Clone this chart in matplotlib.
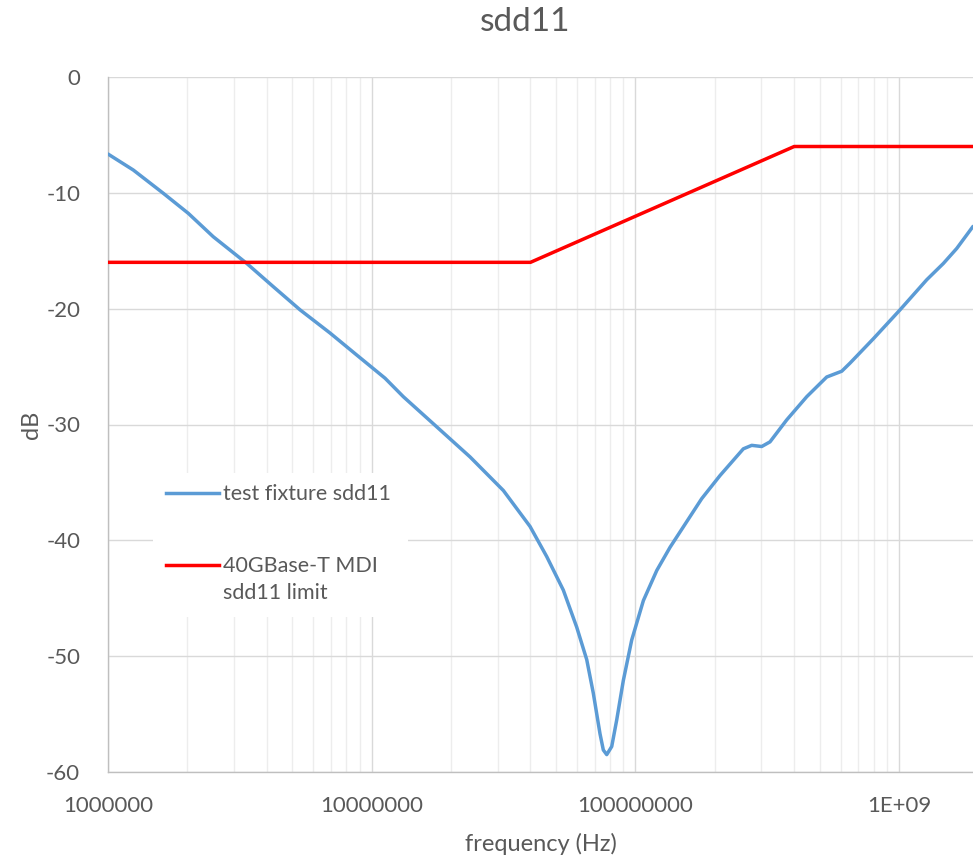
import numpy as np
import matplotlib
matplotlib.use("Agg")
import matplotlib.pyplot as plt
from matplotlib.lines import Line2D
from matplotlib.patches import Rectangle

# 测试夹具 sdd11 曲线
freq_fixture = [1.00e6, 1.247e6, 1.621e6, 2.016e6, 2.507e6, 3.357e6, 4.234e6,
                5.348e6, 6.948e6, 8.772e6, 1.123e7, 1.318e7, 1.764e7, 2.36e7,
                3.157e7, 3.984e7, 4.609e7, 5.329e7, 5.99e7, 6.537e7, 6.924e7,
                7.34e7, 7.556e7, 7.784e7, 8.131e7, 8.494e7, 8.998e7, 9.683e7,
                1.072e8, 1.205e8, 1.353e8, 1.784e8, 2.094e8, 2.566e8, 2.761e8,
                3.012e8, 3.238e8, 3.748e8, 4.463e8, 5.313e8, 6.059e8, 6.513e8,
                7.983e8, 1.008e9, 1.273e9, 1.471e9, 1.654e9, 1.906e9]
sdd11_fixture = [-6.65, -8.03, -10.04, -11.77, -13.79, -16.09, -18.1,
                 -20.1, -22.1, -24.0, -26.0, -27.6, -30.2, -32.8,
                 -35.7, -38.8, -41.4, -44.3, -47.5, -50.3, -53.2,
                 -56.7, -58.1, -58.5, -57.8, -55.5, -52.1, -48.6,
                 -45.2, -42.6, -40.6, -36.4, -34.4, -32.1, -31.8,
                 -31.9, -31.5, -29.6, -27.6, -25.9, -25.4, -24.7,
                 -22.6, -20.1, -17.5, -16.1, -14.8, -12.9]

# 40GBase-T MDI 限值
freq_limit = [1.0e6, 4.0e7, 4.0e8, 1.906e9]
sdd11_limit = [-16, -16, -6, -6]

x_ticks = [1e6, 1e7, 1e8, 1e9]
x_tick_labels = ["1000000", "10000000", "100000000", "1E+09"]
y_ticks = [0, -10, -20, -30, -40, -50, -60]

legend_labels = ["test fixture sdd11", "40GBase-T MDI\nsdd11 limit"]

TEXT = "#595959"
BLUE = "#5B9BD5"
RED = "#FF0000"

plt.rcParams["font.family"] = ["Lato", "DejaVu Sans"]
plt.rcParams["axes.unicode_minus"] = False

W, H = 973, 856
fig = plt.figure(figsize=(W / 100, H / 100), dpi=100)
ax = fig.add_axes([108 / W, 1 - 772 / H, 1 - 108 / W, (772 - 77) / H])

ax.plot(freq_fixture, sdd11_fixture, color=BLUE, linewidth=2.5, zorder=3,
        solid_joinstyle="round", solid_capstyle="round")
ax.plot(freq_limit, sdd11_limit, color=RED, linewidth=2.5, zorder=3)

ax.set_xscale("log")
ax.set_xlim(1e6, 1.906e9)
ax.set_ylim(-60, 0)

ax.set_xticks(x_ticks)
ax.set_xticklabels(x_tick_labels)
ax.set_xticks([m * 10 ** d for d in range(6, 10) for m in range(2, 10)
               if m * 10 ** d < 1.906e9], minor=True)
ax.set_xticklabels([], minor=True)
ax.set_yticks(y_ticks)
ax.tick_params(which="both", length=0, colors=TEXT, labelsize=16)
ax.tick_params(axis="x", pad=17.5)
ax.tick_params(axis="y", pad=20)

ax.grid(True, which="major", color="#D9D9D9", linewidth=1.0)
ax.grid(True, which="minor", axis="x", color="#EDEDED", linewidth=1.0)
ax.set_axisbelow(True)

for s in ["top", "right"]:
    ax.spines[s].set_visible(False)
for s in ["left", "bottom"]:
    ax.spines[s].set_color("#BFBFBF")
    ax.spines[s].set_linewidth(1.0)

ax.set_xlabel("frequency (Hz)", color=TEXT, fontsize=17, labelpad=12)
ax.set_ylabel("dB", color=TEXT, fontsize=17, labelpad=3)
fig.text(525 / W, 1 - 22 / H, "sdd11", color=TEXT, fontsize=24,
         ha="center", va="center")

# 图例（Excel 风格，手动放置）
fig.add_artist(Rectangle((153 / W, 1 - 617 / H), (408 - 153) / W, (617 - 473) / H,
                         transform=fig.transFigure, facecolor="white",
                         edgecolor="none", zorder=4))
for yl, col, lab in [(493, BLUE, legend_labels[0]), (565, RED, legend_labels[1])]:
    fig.add_artist(Line2D([166 / W, 219 / W], [1 - yl / H, 1 - yl / H],
                          transform=fig.transFigure, color=col, linewidth=2.5,
                          zorder=5))
    fig.text(223 / W, 1 - (yl - 9) / H, lab, color=TEXT, fontsize=15.5,
             ha="left", va="top", linespacing=1.42, zorder=5)

fig.savefig("out.png", dpi=100)
